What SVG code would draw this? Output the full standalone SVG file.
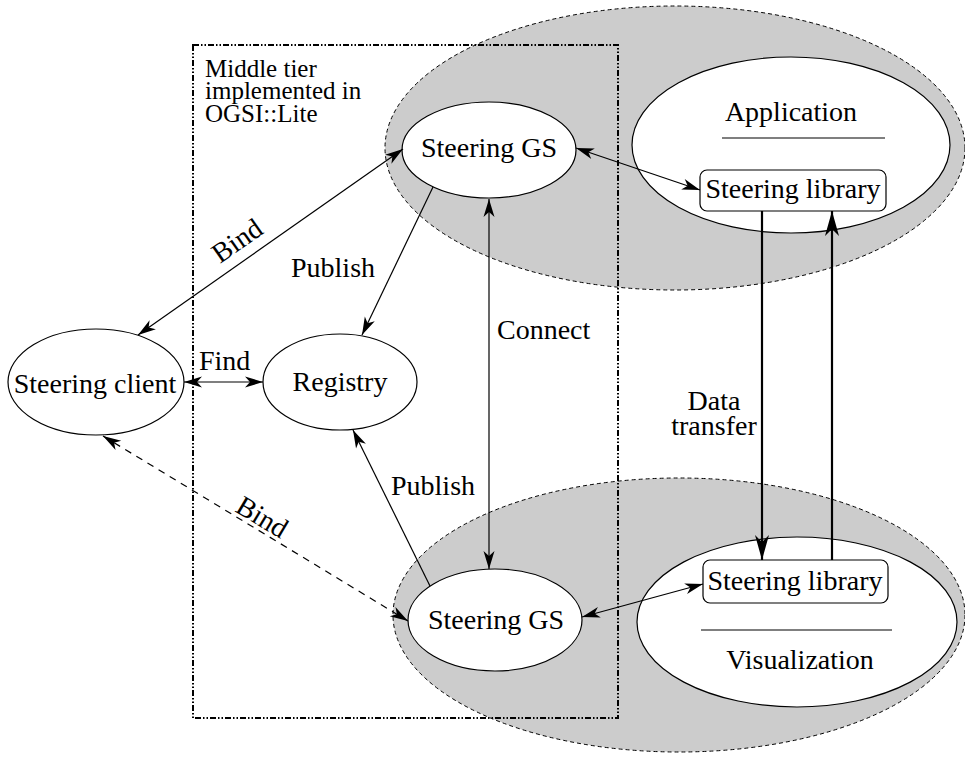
<svg xmlns="http://www.w3.org/2000/svg" width="965" height="758" viewBox="0 0 965 758">
<style>
text{font-family:"Liberation Serif","Times New Roman",serif;font-size:28px;fill:#000}
.mid{text-anchor:middle}
.gray{fill:#cccccc;stroke:#000;stroke-width:1;stroke-dasharray:4 3}
.node{fill:#fff;stroke:#000;stroke-width:1.2}
.box{fill:#fff;stroke:#000;stroke-width:1.2}
.c{fill:none;stroke:#000;stroke-width:1.2}
.thick{fill:none;stroke:#000;stroke-width:2.2}
.dash{stroke-dasharray:7 6}
.tier{fill:none;stroke:#000;stroke-width:2;stroke-dasharray:6 2 1.5 2 1.5 2}
.small{font-size:25px}
</style>
<defs>
<marker id="ah" markerUnits="userSpaceOnUse" orient="auto-start-reverse" refX="0" refY="0" markerWidth="20" markerHeight="12" viewBox="-20 -6 20 12" overflow="visible"><path d="M0,0 L-18,-5.5 L-13,0 L-18,5.5 Z" fill="#000"/></marker>
<marker id="ahb" markerUnits="userSpaceOnUse" orient="auto-start-reverse" refX="0" refY="0" markerWidth="28" markerHeight="16" viewBox="-28 -8 28 16" overflow="visible"><path d="M0,0 L-25,-7 L-18,0 L-25,7 Z" fill="#000"/></marker>
</defs>
<g id="app-region"><ellipse class="gray" cx="675" cy="148" rx="290" ry="142"/></g>
<g id="vis-region"><ellipse class="gray" cx="679" cy="615" rx="286" ry="137"/></g>
<g id="middle-tier">
<rect class="tier" x="193" y="45" width="425" height="673"/>
<text class="small" x="205" y="77">Middle tier</text>
<text class="small" x="205" y="99">implemented in</text>
<text class="small" x="205" y="122">OGSI::Lite</text>
</g>
<g id="application">
<ellipse class="node" cx="791" cy="145" rx="159" ry="88"/>
<text class="mid" x="791" y="121">Application</text>
<line x1="722" y1="138" x2="885" y2="138" stroke="#000" stroke-width="1.2"/>
</g>
<g id="lib-top">
<rect class="box" x="700" y="170" width="186" height="41" rx="7"/>
<text class="mid" x="793" y="198">Steering library</text>
</g>
<g id="visualization">
<ellipse class="node" cx="797" cy="622" rx="160" ry="85"/>
<line x1="701" y1="630" x2="892" y2="630" stroke="#000" stroke-width="1.2"/>
<text class="mid" x="800" y="669">Visualization</text>
</g>
<g id="lib-bottom">
<rect class="box" x="703" y="560" width="185" height="43" rx="7"/>
<text class="mid" x="795" y="590">Steering library</text>
</g>
<g id="gs-top">
<ellipse class="node" cx="489" cy="150" rx="87" ry="48"/>
<text class="mid" x="489" y="157">Steering GS</text>
</g>
<g id="gs-bottom">
<ellipse class="node" cx="495" cy="620" rx="87" ry="51"/>
<text class="mid" x="496" y="629">Steering GS</text>
</g>
<g id="registry">
<ellipse class="node" cx="340" cy="382" rx="77" ry="48"/>
<text class="mid" x="340" y="391">Registry</text>
</g>
<g id="client">
<ellipse class="node" cx="96" cy="382" rx="88" ry="53"/>
<text class="mid" x="95" y="393">Steering client</text>
</g>
<g id="connectors">
<line class="c" x1="138" y1="335" x2="403" y2="149" marker-start="url(#ah)" marker-end="url(#ah)"/>
<line class="c" x1="433" y1="187" x2="362" y2="335" marker-end="url(#ah)"/>
<line class="c" x1="184" y1="382" x2="263" y2="382" marker-start="url(#ah)" marker-end="url(#ah)"/>
<line class="c" x1="489" y1="199" x2="489" y2="569" marker-start="url(#ah)" marker-end="url(#ah)"/>
<line class="c" x1="430" y1="586" x2="353" y2="430" marker-end="url(#ah)"/>
<line class="c dash" x1="103" y1="436" x2="408" y2="621" marker-start="url(#ah)" marker-end="url(#ah)"/>
<line class="c" x1="576" y1="148" x2="700" y2="190" marker-start="url(#ah)" marker-end="url(#ah)"/>
<line class="c" x1="582" y1="617" x2="703" y2="584" marker-start="url(#ah)" marker-end="url(#ah)"/>
<line class="thick" x1="762" y1="211" x2="762" y2="560" marker-end="url(#ahb)"/>
<line class="thick" x1="832" y1="560" x2="832" y2="211" marker-end="url(#ahb)"/>
<text transform="translate(220,264) rotate(-35)">Bind</text>
<text x="291" y="277">Publish</text>
<text x="199" y="370">Find</text>
<text x="497" y="339">Connect</text>
<text x="391" y="495">Publish</text>
<text transform="translate(234,511) rotate(31)">Bind</text>
<text class="mid" x="714" y="410">Data</text>
<text class="mid" x="714" y="435">transfer</text>
</g>
</svg>
